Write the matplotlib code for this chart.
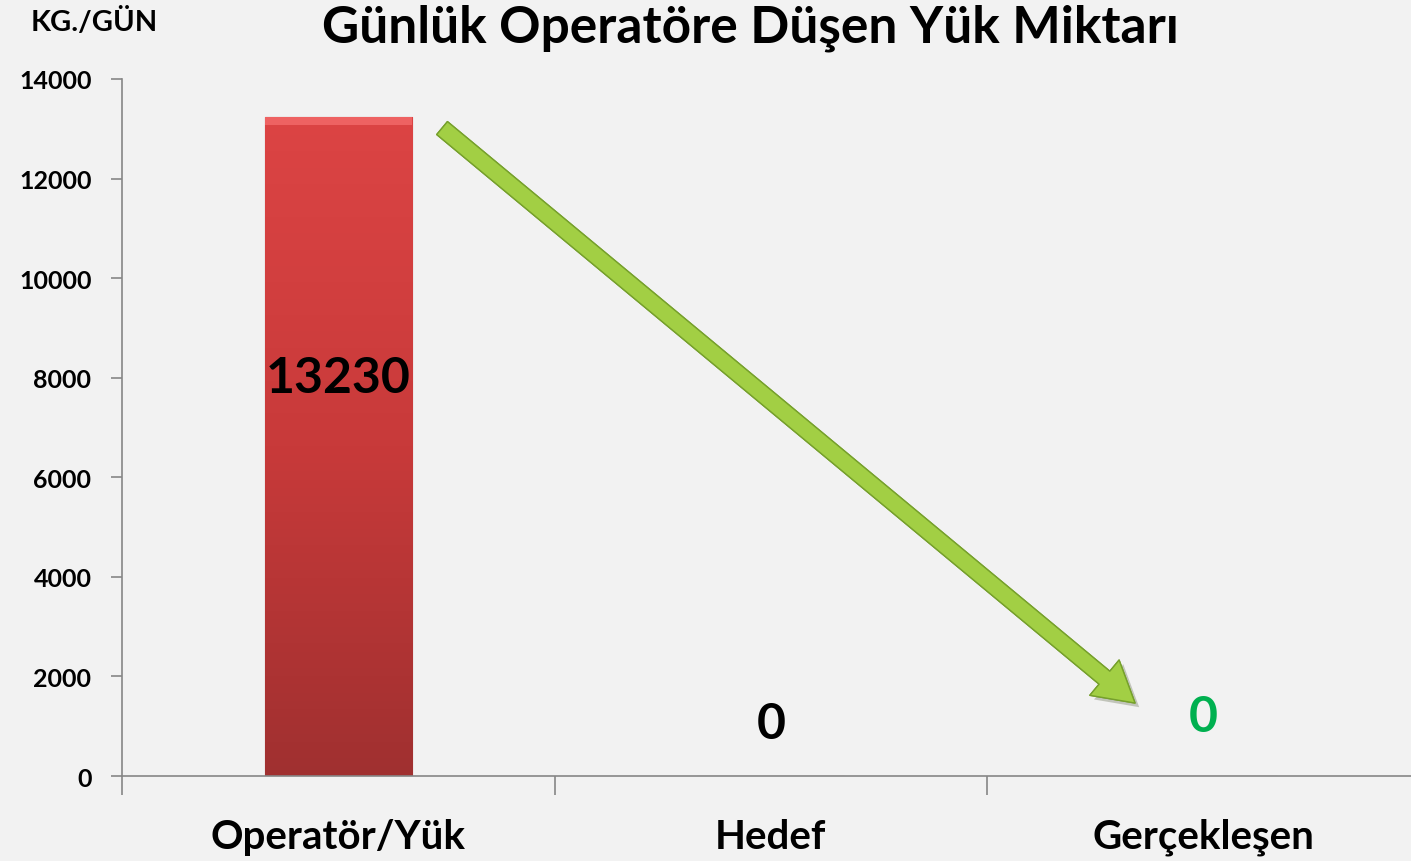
import matplotlib
matplotlib.use("Agg")
import matplotlib.pyplot as plt
import matplotlib.patheffects as pe
from matplotlib.colors import LinearSegmentedColormap
import numpy as np

# ---------------------------------------------------------------------------
# Data
# ---------------------------------------------------------------------------
categories = ["Operatör/Yük", "Hedef", "Gerçekleşen"]
values = [13230, 0, 0]
value_labels = ["13230", "0", "0"]
label_y = [8000, 1050, 1200]
label_colors = ["black", "black", "#00b050"]
y_ticks = [0, 2000, 4000, 6000, 8000, 10000, 12000, 14000]

plt.rcParams["font.family"] = ["Lato", "DejaVu Sans"]
BG = "#f2f2f2"

fig = plt.figure(figsize=(14.11, 8.62), dpi=100, facecolor=BG)
ax = fig.add_axes([0.0865, 0.0986, 0.9196, 0.8086])
ax.set_facecolor(BG)

x = np.arange(len(categories))
bars = ax.bar(x, values, width=0.34, color="#c63a3a", edgecolor="#8a2a2a",
              linewidth=0.8, zorder=2)

# vertical gradient on the bar (light top -> dark bottom)
cmap = LinearSegmentedColormap.from_list("bar", ["#dc4444", "#c83a3a", "#a03030"])
for b in bars:
    if b.get_height() <= 0:
        continue
    x0, w, h = b.get_x(), b.get_width(), b.get_height()
    grad = np.linspace(0, 1, 256).reshape(-1, 1)
    im = ax.imshow(grad, extent=[x0, x0 + w, 0, h], aspect="auto", cmap=cmap,
                   zorder=2.1, origin="upper")
    im.set_clip_path(b)
    # lighter bevel strip on top
    ax.bar(x0 + w / 2, h * 0.012, bottom=h * 0.988, width=w, color="#ee6262",
           linewidth=0, zorder=2.2)

ax.set_xlim(-0.5, 2.5)
ax.set_ylim(0, 14000)
ax.set_yticks(y_ticks)
ax.set_yticklabels([str(v) for v in y_ticks], fontsize=18, fontweight="bold")

ax.set_xticks(x)
ax.set_xticklabels(categories, fontsize=29, fontweight="bold")
ax.tick_params(axis="x", length=0, pad=30)
ax.set_xticks([-0.5, 0.5, 1.5, 2.5], minor=True)
ax.tick_params(axis="x", which="minor", length=14, width=1.2, color="#868686")
ax.tick_params(axis="y", length=8, width=1.2, color="#868686", pad=14)

for s in ["top", "right"]:
    ax.spines[s].set_visible(False)
for s in ["left", "bottom"]:
    ax.spines[s].set_color("#868686")
    ax.spines[s].set_linewidth(1.2)

# value labels
for xi, lab, ly, c in zip(x, value_labels, label_y, label_colors):
    ax.text(xi, ly, lab, ha="center", va="center", fontsize=36,
            fontweight="bold", color=c, zorder=4)

# decreasing arrow
ax.annotate("", xy=(1.847, 1430), xytext=(0.235, 13050),
            arrowprops=dict(arrowstyle="simple,head_length=1.3,head_width=1.5,tail_width=0.55",
                            mutation_scale=22, facecolor="#a2cf44",
                            edgecolor="#76a02c", linewidth=1,
                            path_effects=[pe.withSimplePatchShadow(offset=(3, -3),
                                                                   alpha=0.25),
                                          pe.Normal()]),
            zorder=5)

fig.text(0.532, 0.967, "Günlük Operatöre Düşen Yük Miktarı", ha="center",
         va="center", fontsize=37, fontweight="bold")
fig.text(0.067, 0.974, "KG./GÜN", ha="center", va="center", fontsize=21,
         fontweight="bold")

fig.savefig("out.png", dpi=100, facecolor=BG)
